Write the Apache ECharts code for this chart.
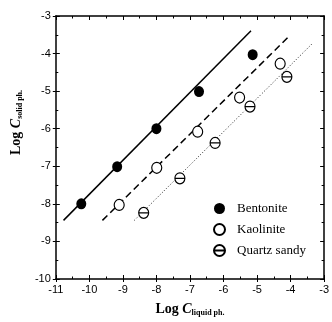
<!DOCTYPE html>
<html>
<head>
<meta charset="utf-8">
<script src="https://cdn.jsdelivr.net/npm/echarts@6/dist/echarts.min.js"></script>
<style>
  html, body { margin: 0; padding: 0; background: #fff; }
  #chart { width: 332px; height: 322px; }
</style>
</head>
<body>
<div id="chart"></div>
<script>
// values (log units)
const bentoniteX = [-10.24, -9.17, -8.0, -6.73, -5.13];
const bentoniteY = [-8.0, -7.01, -6.0, -5.01, -4.03];
const kaoliniteX = [-9.11, -7.99, -6.77, -5.52, -4.31];
const kaoliniteY = [-8.03, -7.04, -6.08, -5.17, -4.27];
const quartzX = [-8.38, -7.3, -6.25, -5.21, -4.11];
const quartzY = [-8.24, -7.32, -6.38, -5.41, -4.62];

// fitted lines, start and end points
const bentoniteFitX = [-10.77, -5.18];
const bentoniteFitY = [-8.44, -3.39];
const kaoliniteFitX = [-9.61, -4.08];
const kaoliniteFitY = [-8.44, -3.57];
const quartzFitX = [-8.66, -3.37];
const quartzFitY = [-8.44, -3.75];

const names = ["Bentonite", "Kaolinite", "Quartz sandy"];

const zip = (xs, ys) => xs.map((x, i) => [x, ys[i]]);

const thetaSymbol =
  "path://M0,-10A10,10 0 1,1 0,10A10,10 0 1,1 0,-10ZM-10,0L10,0";

const tickFont = "'Liberation Sans Narrow', 'Liberation Sans', Arial, sans-serif";
const serif = "'Liberation Serif', 'Times New Roman', serif";

const chart = echarts.init(document.getElementById("chart"));

function baseAxis(extra) {
  return Object.assign(
    {
      type: "value",
      interval: 1,
      splitLine: { show: false },
      axisLine: { show: false, onZero: false, lineStyle: { color: "#000", width: 1.5 } },
      axisTick: { show: false },
      axisLabel: { show: false },
    },
    extra
  );
}

const innerTicks = {
  show: true,
  inside: true,
  length: 4,
  lineStyle: { color: "#000", width: 1 },
};
const innerMinor = {
  show: true,
  splitNumber: 2,
  length: 2.5,
  lineStyle: { color: "#000", width: 1 },
};

const titleRich = {
  c: {
    fontFamily: serif,
    fontWeight: "bold",
    fontStyle: "italic",
    fontSize: 14,
    lineHeight: 16,
    color: "#000",
  },
  s: {
    fontFamily: serif,
    fontWeight: "bold",
    fontSize: 8,
    lineHeight: 8,
    verticalAlign: "bottom",
    color: "#000",
  },
};

chart.setOption({
  animation: false,
  grid: { left: 41, right: 4, top: 16, bottom: 40.5 },
  legend: {
    orient: "vertical",
    left: 208,
    top: 197,
    itemWidth: 25,
    itemHeight: 11,
    itemGap: 8,
    data: names,
    textStyle: { fontFamily: serif, fontSize: 13, color: "#000" },
  },
  xAxis: [
    baseAxis({
      position: "bottom",
      min: -11,
      max: -3,
      axisLine: { show: true, onZero: false, lineStyle: { color: "#000", width: 1.5 } },
      axisTick: { show: true, inside: false, length: 3, lineStyle: { color: "#000" } },
      axisLabel: {
        show: true,
        margin: 5,
        color: "#000",
        fontFamily: tickFont,
        fontSize: 11,
      },
      name: "Log {c|C}{s|liquid ph.}",
      nameLocation: "middle",
      nameGap: 22,
      nameTextStyle: {
        fontFamily: serif,
        fontWeight: "bold",
        fontSize: 14,
        color: "#000",
        lineHeight: 16,
        rich: titleRich,
      },
    }),
    baseAxis({
      position: "top",
      min: -11,
      max: -3,
      axisLine: { show: true, onZero: false, lineStyle: { color: "#000", width: 1.5 } },
      axisTick: innerTicks,
      minorTick: innerMinor,
    }),
    // inward minor ticks along the bottom edge
    baseAxis({
      position: "bottom",
      min: -11,
      max: -3,
      axisTick: innerTicks,
      minorTick: innerMinor,
    }),
  ],
  yAxis: [
    baseAxis({
      position: "left",
      min: -10,
      max: -3,
      axisLine: { show: true, onZero: false, lineStyle: { color: "#000", width: 1.5 } },
      axisTick: { show: true, inside: false, length: 3, lineStyle: { color: "#000" } },
      axisLabel: {
        show: true,
        margin: 5,
        color: "#000",
        fontFamily: tickFont,
        fontSize: 11,
      },
      name: "Log {c|C}{s|solid ph.}",
      nameLocation: "middle",
      nameGap: 27,
      nameTextStyle: {
        fontFamily: serif,
        fontWeight: "bold",
        fontSize: 14,
        color: "#000",
        lineHeight: 16,
        padding: [0, 0, 0, 50],
        rich: titleRich,
      },
    }),
    baseAxis({
      position: "right",
      min: -10,
      max: -3,
      axisLine: { show: true, onZero: false, lineStyle: { color: "#000", width: 1.5 } },
      axisTick: innerTicks,
      minorTick: innerMinor,
    }),
    baseAxis({
      position: "left",
      min: -10,
      max: -3,
      axisTick: innerTicks,
      minorTick: innerMinor,
    }),
  ],
  series: [
    {
      type: "line",
      data: zip(bentoniteFitX, bentoniteFitY),
      showSymbol: false,
      lineStyle: { color: "#000", width: 1.5, type: "solid" },
      z: 1,
    },
    {
      type: "line",
      data: zip(kaoliniteFitX, kaoliniteFitY),
      showSymbol: false,
      lineStyle: { color: "#000", width: 1.5, type: [7, 4] },
      z: 1,
    },
    {
      type: "line",
      data: zip(quartzFitX, quartzFitY),
      showSymbol: false,
      lineStyle: { color: "#222", width: 1, type: [1, 2] },
      z: 1,
    },
    {
      name: names[0],
      type: "scatter",
      data: zip(bentoniteX, bentoniteY),
      symbol: "circle",
      symbolSize: [10, 11],
      itemStyle: { color: "#000", opacity: 1 },
      z: 3,
    },
    {
      name: names[1],
      type: "scatter",
      data: zip(kaoliniteX, kaoliniteY),
      symbol: "circle",
      symbolSize: [10, 11],
      itemStyle: { color: "#fff", borderColor: "#000", borderWidth: 1.2, opacity: 1 },
      z: 3,
    },
    {
      name: names[2],
      type: "scatter",
      data: zip(quartzX, quartzY),
      symbol: thetaSymbol,
      symbolSize: [10, 11],
      symbolKeepAspect: true,
      itemStyle: { color: "#fff", borderColor: "#000", borderWidth: 1.2, opacity: 1 },
      z: 3,
    },
  ],
});
</script>
</body>
</html>
